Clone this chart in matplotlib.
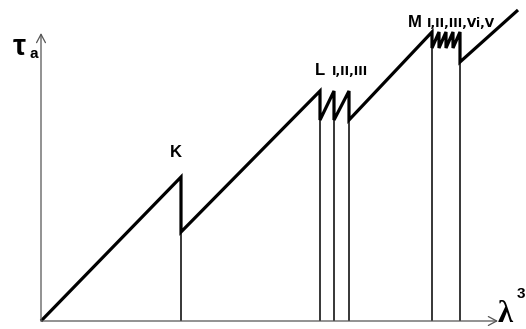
import matplotlib
matplotlib.use("Agg")
import matplotlib.pyplot as plt

# Absorption-edge sawtooth: tau_a versus lambda^3
k_edge = 140
k_peak, k_drop = 144, 89
l_edges = [279, 293, 308]
l_peak, l_drop = 230, 201
m_edges = [391, 398, 405, 412, 419]
m_peak, m_drop, m_last_drop = 289, 273, 259
x_end, y_end = 477, 311

x_axis_len = 457
y_axis_len = 288

# build the polyline through the edges
xs = [0, k_edge, k_edge]
ys = [0, k_peak, k_drop]
for e in l_edges:
    xs += [e, e]
    ys += [l_peak, l_drop]
for i, e in enumerate(m_edges):
    xs += [e, e]
    ys += [m_peak, m_last_drop if i == len(m_edges) - 1 else m_drop]
xs.append(x_end)
ys.append(y_end)

fig = plt.figure(figsize=(5.26, 3.29), dpi=100)
ax = fig.add_axes([0, 0, 1, 1])
ax.set_xlim(-41, 485)
ax.set_ylim(-8, 321)
ax.axis("off")

axis_col = "#555555"
arrow = dict(arrowstyle="->,head_length=0.6,head_width=0.32", color=axis_col,
             lw=0.9, mutation_scale=10, shrinkA=0, shrinkB=0)
ax.annotate("", xy=(x_axis_len, 0), xytext=(0, 0), arrowprops=arrow)
ax.annotate("", xy=(0, y_axis_len), xytext=(0, 0), arrowprops=arrow)

# projection lines from each edge down to the axis
drops = [(k_edge, k_drop)] + [(e, l_drop) for e in l_edges] + \
        [(m_edges[0], m_drop), (m_edges[-1], m_last_drop)]
for x, y in drops:
    ax.plot([x, x], [0, y], color="black", lw=1.1, solid_capstyle="butt")

ax.plot(xs, ys, color="black", lw=2.3, solid_joinstyle="miter",
        solid_capstyle="butt")

bold = dict(family="Liberation Sans", weight="bold", color="black")
sub = dict(family="DejaVu Sans", weight="bold", color="black")
ax.text(135, 164, "K", ha="center", va="baseline", fontsize=12, **bold)
ax.text(274, 246, "L", ha="left", va="baseline", fontsize=12, **bold)
ax.text(291, 246, "I,II,III", ha="left", va="baseline", fontsize=8.7, **sub)
ax.text(367, 294, "M", ha="left", va="baseline", fontsize=12, **bold)
ax.text(386, 294, "I,II,III,Vi,V", ha="left", va="baseline", fontsize=8.7, **sub)

ax.text(-28, 266, "τ", ha="left", va="baseline", fontsize=21, **bold)
ax.text(-12, 263, "a", ha="left", va="baseline", fontsize=11, **bold)
ax.text(457, -1, "λ", ha="left", va="baseline", fontsize=22,
        family="Liberation Serif", weight="bold", color="black")
ax.text(476, 23, "3", ha="left", va="baseline", fontsize=11, **bold)

fig.savefig("out.png", dpi=100)
